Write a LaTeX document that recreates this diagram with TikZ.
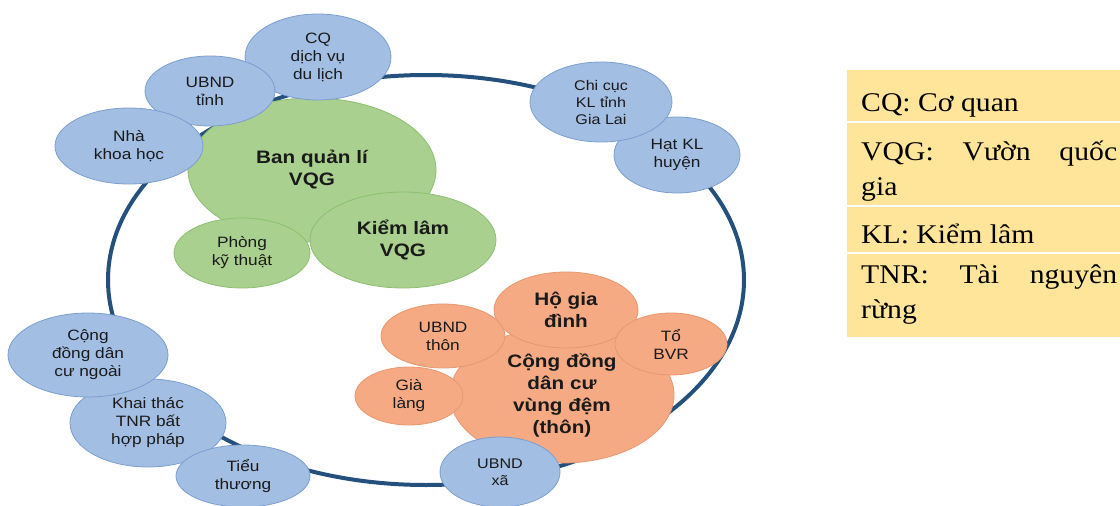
\documentclass[tikz,border=0pt]{standalone}
\usepackage{fontspec}
\usepackage{xcolor}
\usepackage{tikz}
\usetikzlibrary{shapes.geometric}
\newfontfamily\diagfont[FakeStretch=1.15]{Liberation Sans}
\newfontfamily\legendfont[FakeStretch=1.1]{Liberation Serif}
\definecolor{ringBlue}{HTML}{24507D}
\definecolor{ballBlue}{HTML}{A3BEE3}
\definecolor{edgeBlue}{HTML}{7B9ED0}
\definecolor{ballGreen}{HTML}{A9D08E}
\definecolor{edgeGreen}{HTML}{8CBF6F}
\definecolor{ballOrange}{HTML}{F5AA84}
\definecolor{edgeOrange}{HTML}{E8976F}
\definecolor{legendFill}{HTML}{FFE599}
\definecolor{inkText}{HTML}{1A1A1A}
\tikzset{
  ball/.style={ellipse, inner sep=0pt, align=center, text=inkText, line width=0.8pt},
  blueball/.style={ball, fill=ballBlue, draw=edgeBlue,
    font=\diagfont\fontsize{15}{18}\selectfont},
  greenball/.style={ball, fill=ballGreen, draw=edgeGreen,
    font=\diagfont\fontsize{15}{18}\selectfont},
  orangeball/.style={ball, fill=ballOrange, draw=edgeOrange,
    font=\diagfont\fontsize{15}{18}\selectfont},
  bigtext/.style={font=\diagfont\bfseries\fontsize{18}{22}\selectfont},
  legendrow/.style={fill=legendFill, draw=none},
  legendtext/.style={anchor=base west, inner sep=0pt, text width=256pt, align=justify,
    font=\legendfont\fontsize{27}{35}\selectfont}
}

\begin{document}
\begin{tikzpicture}[x=1pt,y=-1pt]
  \useasboundingbox (0,0) rectangle (1120,506);

  % vong lien ket
  \draw[ringBlue, line width=4pt] (426,280) ellipse [x radius=318pt, y radius=205pt];

  % khoi VQG
  \node[greenball, bigtext, minimum width=248pt, minimum height=144pt] (bql) at (312,170) {Ban quản lí\\VQG};
  \node[greenball, minimum width=136pt, minimum height=70pt] (pkt) at (242,253) {Phòng\\kỹ thuật};
  \node[greenball, bigtext, minimum width=186pt, minimum height=96pt] (klvqg) at (403,240) {Kiểm lâm\\VQG};

  % khoi cong dong vung dem
  \node[orangeball, bigtext, minimum width=224pt, minimum height=136pt] (cddc) at (562,395) {Cộng đồng\\dân cư\\vùng đệm\\(thôn)};
  \node[orangeball, bigtext, minimum width=144pt, minimum height=76pt] (hgd) at (566,310) {Hộ gia\\đình};
  \node[orangeball, minimum width=124pt, minimum height=64pt] (ubndthon) at (443,336) {UBND\\thôn};
  \node[orangeball, minimum width=108pt, minimum height=58pt] (gialang) at (409,396) {Già\\làng};
  \node[orangeball, minimum width=112pt, minimum height=62pt] (tobvr) at (671,344) {Tổ\\BVR};

  % cac ben lien quan
  \node[blueball, minimum width=146pt, minimum height=86pt] (cqdv) at (318,57) {CQ\\dịch vụ\\du lịch};
  \node[blueball, minimum width=130pt, minimum height=70pt] (ubndtinh) at (210,91) {UBND\\tỉnh};
  \node[blueball, minimum width=148pt, minimum height=76pt] (nkh) at (129,146) {Nhà\\khoa học};
  \node[blueball, minimum width=126pt, minimum height=76pt] (hatkl) at (677,155) {Hạt KL\\huyện};
  \node[blueball, minimum width=142pt, minimum height=80pt,
        font=\diagfont\fontsize{14}{17}\selectfont] (chicuc) at (601,102) {Chi cục\\KL tỉnh\\Gia Lai};
  \node[blueball, minimum width=156pt, minimum height=88pt] (khaithac) at (148,423) {Khai thác\\TNR bất\\hợp pháp};
  \node[blueball, minimum width=160pt, minimum height=84pt] (cdngoai) at (88,355) {Cộng\\đồng dân\\cư ngoài};
  \node[blueball, minimum width=134pt, minimum height=62pt] (tieuthuong) at (243,476) {Tiểu\\thương};
  \node[blueball, minimum width=120pt, minimum height=70pt,
        font=\diagfont\fontsize{14}{17}\selectfont] (ubndxa) at (500,472) {UBND\\xã};

  % chu giai
  \fill[legendrow] (847,70) rectangle (1120,121);
  \fill[legendrow] (847,123) rectangle (1120,205);
  \fill[legendrow] (847,207) rectangle (1120,252);
  \fill[legendrow] (847,254) rectangle (1120,337);
  \node[legendtext] (lgcq) at (861,111) {CQ: Cơ quan};
  \node[legendtext] (lgvqg) at (861,160) {VQG: Vườn quốc\linebreak gia};
  \node[legendtext] (lgkl) at (861,243) {KL: Kiểm lâm};
  \node[legendtext] (lgtnr) at (861,283) {TNR: Tài nguyên rừng};
\end{tikzpicture}
\end{document}
